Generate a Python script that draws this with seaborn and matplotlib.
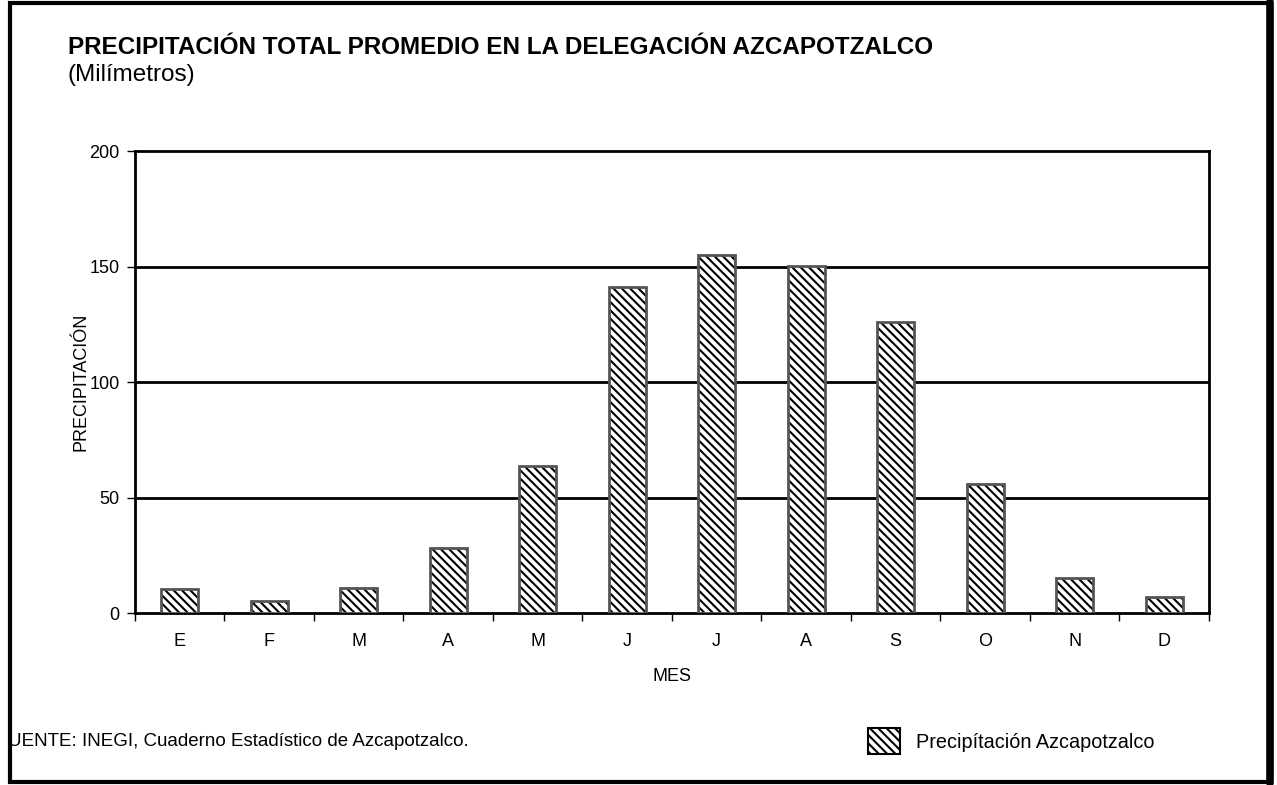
import numpy as np
import pandas as pd
import matplotlib
matplotlib.use("Agg")
import matplotlib.pyplot as plt
from matplotlib.patches import Patch, Rectangle
from matplotlib.lines import Line2D
import seaborn as sns

meses = ["E", "F", "M", "A", "M", "J", "J", "A", "S", "O", "N", "D"]
precipitacion = [10.6, 5.3, 10.9, 28.1, 63.8, 141.2, 155.0, 150.2, 126.1, 55.9, 15.0, 6.9]
y_ticks = [0, 50, 100, 150, 200]

sns.set_theme(style="white")
plt.rcParams["font.family"] = ["Liberation Sans", "DejaVu Sans"]
plt.rcParams["text.color"] = "black"
plt.rcParams["axes.labelcolor"] = "black"
plt.rcParams["xtick.color"] = "black"
plt.rcParams["ytick.color"] = "black"
plt.rcParams["hatch.linewidth"] = 1.5

df = pd.DataFrame({"idx": range(len(meses)), "mes": meses, "valor": precipitacion})

fig = plt.figure(figsize=(12.77, 7.85), dpi=100)
ax = fig.add_axes([0.1057, 0.219, 0.841, 0.5886])

# capa con el sombreado (negro)
sns.barplot(data=df, x="idx", y="valor", color="white", edgecolor="black",
            linewidth=0, width=0.41, saturation=1, ax=ax, zorder=3)
for p in ax.patches:
    p.set_hatch("\\\\\\\\")
    p.set_facecolor("white")
    p.set_edgecolor("black")
    p.set_linewidth(0)
# contorno gris de las barras
sns.barplot(data=df, x="idx", y="valor", color="#555555", fill=False,
            linewidth=2, width=0.41, saturation=1, ax=ax, zorder=4)

ax.set_xlim(-0.5, len(meses) - 0.5)
ax.set_ylim(0, 200)
ax.set_yticks(y_ticks)
ax.set_yticklabels([str(v) for v in y_ticks], fontsize=13)
ax.set_xticks(range(len(meses)))
ax.set_xticklabels(meses, fontsize=13)
ax.set_xticks(np.arange(-0.5, len(meses), 1), minor=True)
ax.tick_params(axis="x", which="major", length=0, pad=14)
ax.tick_params(axis="x", which="minor", length=6, width=1, direction="out", bottom=True)
ax.tick_params(axis="y", which="major", length=6, width=1, direction="out", left=True, pad=5)

for v in y_ticks[1:-1]:
    ax.axhline(v, color="black", lw=2, zorder=1)
for s in ax.spines.values():
    s.set_visible(True)
    s.set_color("black")
    s.set_linewidth(2)

ax.set_xlabel("MES", fontsize=13, labelpad=13)
ax.set_ylabel("PRECIPITACIÓN", fontsize=13, labelpad=0)

fig.text(0.053, 0.940, "PRECIPITACIÓN TOTAL PROMEDIO EN LA DELEGACIÓN AZCAPOTZALCO",
         fontsize=17.5, fontweight="bold", va="center", ha="left")
fig.text(0.053, 0.904, "(Milímetros)", fontsize=17.5, va="center", ha="left")
fig.text(0.006, 0.056, "UENTE: INEGI, Cuaderno Estadístico de Azcapotzalco.",
         fontsize=13.5, va="center", ha="left")

handle = Patch(facecolor="white", edgecolor="black", hatch="\\\\\\\\", lw=1.5)
fig.legend([handle], ["Precipítación Azcapotzalco"], loc="center left",
           bbox_to_anchor=(0.680, 0.056), frameon=False, fontsize=14.3,
           handlelength=1.6, handleheight=1.6, handletextpad=0.8,
           borderpad=0, borderaxespad=0)

# marco exterior
fig.patches.append(Rectangle((0.0078, 0.0042), 0.9867, 0.9916, transform=fig.transFigure,
                             fill=False, edgecolor="black", lw=3))
fig.lines.append(Line2D([0.9945, 0.9945], [0.002, 0.998], transform=fig.transFigure,
                        color="black", lw=5.5))

fig.savefig("out.png", dpi=100, facecolor="white")
